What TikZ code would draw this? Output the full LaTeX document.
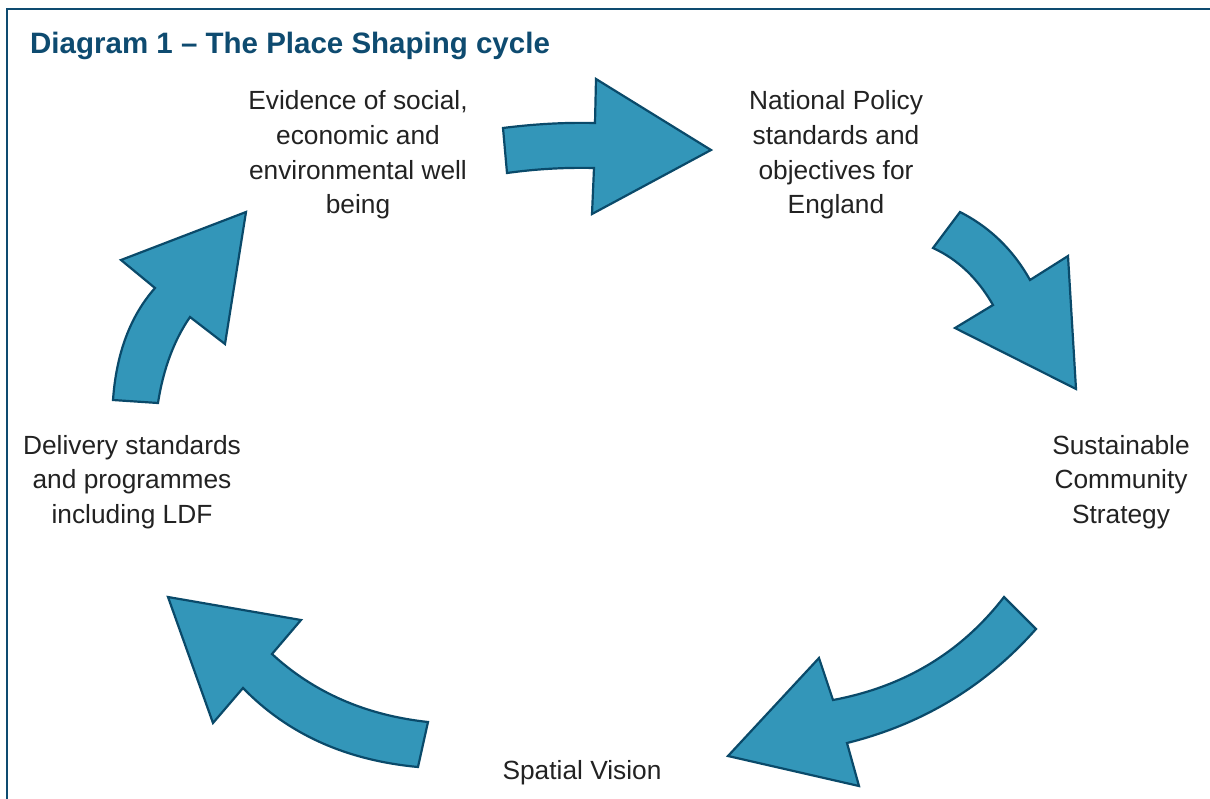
\documentclass[tikz,border=0pt]{standalone}
\usepackage{fontspec}
\setmainfont{Liberation Sans}
\definecolor{arrowfill}{RGB}{51,150,185}
\definecolor{arrowline}{RGB}{10,74,106}
\definecolor{titleblue}{RGB}{14,75,112}
\definecolor{textgray}{RGB}{34,34,34}
\tikzset{
  cyclearrow/.style={fill=arrowfill,draw=arrowline,line width=2.2pt,line join=miter},
  framebox/.style={draw=titleblue,line width=2.4pt},
  label/.style={align=center,inner sep=0pt,text=textgray,font=\fontsize{26.3}{34.6}\selectfont},
  titletext/.style={inner sep=0pt,text=titleblue,font=\fontsize{29.5}{34}\selectfont\bfseries}
}
\begin{document}
\begin{tikzpicture}[x=1pt,y=-1pt]
\useasboundingbox (0,0) rectangle (1210,798);
\fill[white] (0,0) rectangle (1210,798);
\coordinate (fc) at (7,9);
\coordinate (fr) at (1212,9);
\coordinate (fb) at (7,800);
\draw[framebox] (fr) -- (fc) -- (fb);
\node[titletext,anchor=base west] (title) at (30,53) {Diagram 1 -- The Place Shaping cycle};

\node[label] (evidence) at (358,155) {Evidence of social,\\economic and\\environmental well\\being};
\node[label] (national) at (836,155) {National Policy\\standards and\\objectives for\\England};
\node[label] (scs) at (1121,482) {Sustainable\\Community\\Strategy};
\node[label] (spatial) at (582,773) {Spatial Vision};
\node[label] (delivery) at (132,482) {Delivery standards\\and programmes\\including LDF};

% arrow 1: evidence -> national
\draw[cyclearrow] (503,128) .. controls (534.3,124) and (565,122.3) .. (595,123) -- (596,79) -- (711,150) -- (592,214) -- (594,168) .. controls (564.7,167.3) and (535.7,169) .. (507,173) -- cycle;
% arrow 2: national -> scs
\draw[cyclearrow] (960,212) .. controls (990,227.3) and (1013.3,250) .. (1030,280) -- (1068,256) -- (1076,389) -- (955,328) -- (993,305) .. controls (977.7,278.3) and (957.7,259.3) .. (933,248) -- cycle;
% arrow 3: scs -> spatial
\draw[cyclearrow] (1004,597) .. controls (961.3,652.3) and (904.3,686.7) .. (833,700) -- (819,658) -- (728,756) -- (859,786) -- (847,743) .. controls (922.3,724.3) and (985.3,686.3) .. (1036,629) -- cycle;
% arrow 4: spatial -> delivery
\draw[cyclearrow] (168,597) -- (301,620) -- (272,654) .. controls (314,692.7) and (366,715.3) .. (428,722) -- (418,767) .. controls (346,760.3) and (287.7,734) .. (243,688) -- (213,723) -- cycle;
% arrow 5: delivery -> evidence
\draw[cyclearrow] (246,212) -- (225,344) -- (190,317) .. controls (174,340.3) and (163.3,369) .. (158,403) -- (113,400) .. controls (116.3,353.3) and (130.3,316) .. (155,288) -- (121,260) -- cycle;
\end{tikzpicture}
\end{document}
